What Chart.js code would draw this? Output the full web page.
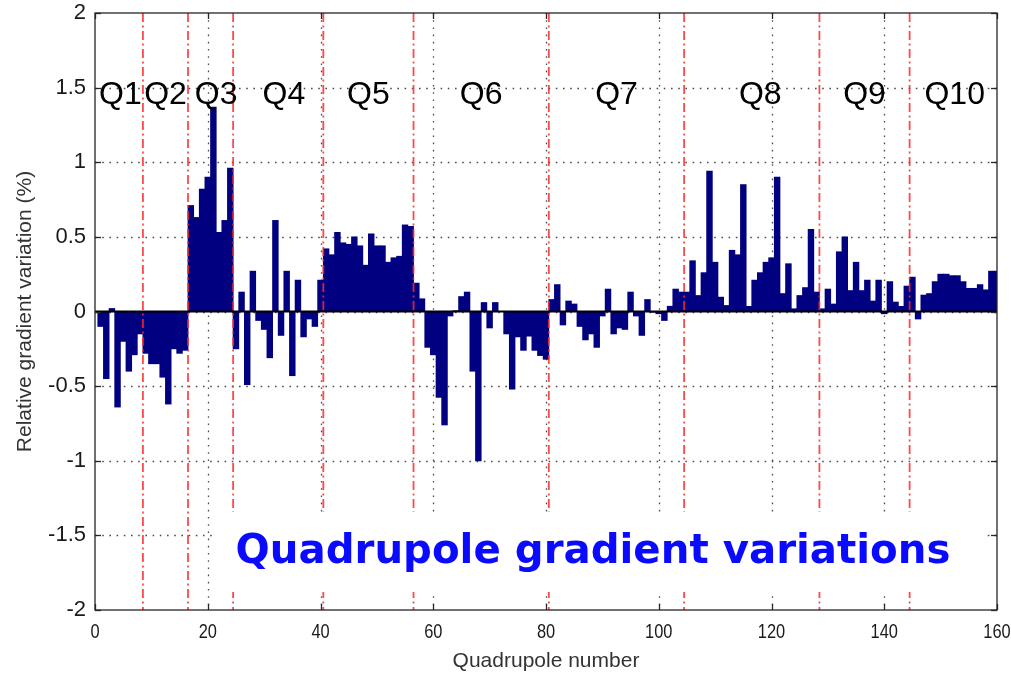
<!DOCTYPE html>
<html>
<head>
<meta charset="utf-8">
<script src="https://cdn.jsdelivr.net/npm/chart.js@4.4.1/dist/chart.umd.min.js"></script>
<style>
  html, body { margin: 0; padding: 0; background: #ffffff; }
  #wrap { width: 1011px; height: 677px; position: relative; }
</style>
</head>
<body>
<div id="wrap"><canvas id="chart" width="1011" height="677"></canvas></div>
<script>
// Relative gradient variation (%) of each quadrupole, grouped by family
const q1Values  = [-0.10, -0.45, 0.02, -0.64, -0.20, -0.40, -0.29, -0.15];
const q2Values  = [-0.28, -0.35, -0.35, -0.44, -0.62, -0.25, -0.28, -0.26];
const q3Values  = [0.71, 0.63, 0.82, 0.90, 1.37, 0.53, 0.61, 0.96];
const q4Values  = [-0.25, 0.13, -0.49, 0.27, -0.06, -0.12, -0.31, 0.61,
                   -0.16, 0.27, -0.43, 0.21, -0.17, -0.05, -0.10, 0.21];
const q5Values  = [0.42, 0.38, 0.53, 0.46, 0.45, 0.50, 0.44, 0.31,
                   0.52, 0.44, 0.44, 0.33, 0.36, 0.37, 0.58, 0.57];
const q6Values  = [0.19, 0.085, -0.24, -0.29, -0.575, -0.76, -0.03, 0.005,
                   0.10, 0.13, -0.40, -1.00, 0.06, -0.11, 0.06, 0.0,
                   -0.15, -0.52, -0.17, -0.26, -0.165, -0.26, -0.295, -0.32];
const q7Values  = [0.08, 0.18, -0.09, 0.07, 0.05, -0.10, -0.19, -0.15,
                   -0.24, -0.03, 0.15, -0.15, -0.11, -0.12, 0.13, -0.03,
                   -0.16, 0.08, -0.005, -0.015, -0.06, 0.035, 0.15, 0.13];
const q8Values  = [0.13, 0.34, 0.107, 0.26, 0.94, 0.33, 0.096, 0.04,
                   0.41, 0.38, 0.85, 0.034, 0.21, 0.26, 0.33, 0.36,
                   0.90, 0.12, 0.32, 0.018, 0.107, 0.16, 0.55, 0.13];
const q9Values  = [0.018, 0.15, 0.05, 0.40, 0.50, 0.14, 0.33, 0.14,
                   0.21, 0.07, 0.21, -0.015, 0.20, 0.063, 0.034, 0.17];
const q10Values = [0.23, -0.05, 0.11, 0.12, 0.20, 0.25, 0.25, 0.24,
                   0.24, 0.20, 0.155, 0.155, 0.18, 0.145, 0.27, 0.27];

const familyNames  = ['Q1', 'Q2', 'Q3', 'Q4', 'Q5', 'Q6', 'Q7', 'Q8', 'Q9', 'Q10'];
const familyLabelX = [4.5, 12.5, 21.5, 33.5, 48.5, 68.5, 92.5, 118, 136.5, 152.5];
const familyLabelY = 1.45;

const xTickValues = [0, 20, 40, 60, 80, 100, 120, 140, 160];
const yTickValues = [-2, -1.5, -1, -0.5, 0, 0.5, 1, 1.5, 2];

const familyValues = [q1Values, q2Values, q3Values, q4Values, q5Values,
                      q6Values, q7Values, q8Values, q9Values, q10Values];
const gradientVariation = familyValues.flat();
const quadrupoleNumbers = gradientVariation.map((_, i) => i + 1);

// family boundaries fall half-way between the last and first magnet of two families
const familyEdges = [];
{
  let n = 0;
  familyValues.slice(0, -1).forEach(f => { n += f.length; familyEdges.push(n + 0.5); });
}

const FONT = 'Liberation Sans, Arial, Helvetica, sans-serif';

function strokeLine(ctx, x1, y1, x2, y2) {
  ctx.beginPath(); ctx.moveTo(x1, y1); ctx.lineTo(x2, y2); ctx.stroke();
}

const decorations = {
  id: 'decorations',
  beforeDatasetsDraw(chart) {
    const { ctx, chartArea: a, scales: { x, y } } = chart;
    ctx.save();
    ctx.strokeStyle = '#4d4d4d';
    ctx.lineWidth = 1.3;
    ctx.setLineDash([1.6, 5.6]);
    xTickValues.forEach(v => {
      if (v === x.min || v === x.max) return;
      const px = Math.round(x.getPixelForValue(v)) + 0.5;
      strokeLine(ctx, px, a.top, px, a.bottom);
    });
    yTickValues.forEach(v => {
      if (v === y.min || v === y.max) return;
      const py = Math.round(y.getPixelForValue(v)) + 0.5;
      strokeLine(ctx, a.left, py, a.right, py);
    });
    ctx.restore();
  },
  afterDatasetsDraw(chart) {
    const { ctx, chartArea: a, scales: { x, y } } = chart;
    ctx.save();

    // bar baseline
    ctx.strokeStyle = '#000000';
    ctx.lineWidth = 2;
    const y0 = y.getPixelForValue(0);
    strokeLine(ctx, a.left, y0, a.right, y0);

    // dash-dot family separators
    ctx.strokeStyle = 'rgba(255, 40, 40, 0.85)';
    ctx.lineWidth = 1.8;
    ctx.setLineDash([9, 3.5, 2, 3.5]);
    familyEdges.forEach(e => {
      const px = x.getPixelForValue(e);
      strokeLine(ctx, px, a.top, px, a.bottom);
    });
    ctx.setLineDash([]);

    // axes box with inward tick marks
    ctx.strokeStyle = '#262626';
    ctx.lineWidth = 1.3;
    ctx.strokeRect(a.left, a.top, a.right - a.left, a.bottom - a.top);
    const tl = 6;
    xTickValues.forEach(v => {
      const px = Math.round(x.getPixelForValue(v)) + 0.5;
      strokeLine(ctx, px, a.bottom, px, a.bottom - tl);
      strokeLine(ctx, px, a.top, px, a.top + tl);
    });
    yTickValues.forEach(v => {
      const py = Math.round(y.getPixelForValue(v)) + 0.5;
      strokeLine(ctx, a.left, py, a.left + tl, py);
      strokeLine(ctx, a.right, py, a.right - tl, py);
    });

    // x tick labels, set in a narrow face
    ctx.fillStyle = '#1a1a1a';
    ctx.font = '20px ' + FONT;
    ctx.textAlign = 'center';
    ctx.textBaseline = 'middle';
    const squeeze = 0.82;
    xTickValues.forEach(v => {
      const px = x.getPixelForValue(v);
      ctx.save();
      ctx.translate(px, a.bottom + 22);
      ctx.scale(squeeze, 1);
      ctx.fillText(String(v), 0, 0);
      ctx.restore();
    });

    // family names
    ctx.fillStyle = '#000000';
    ctx.font = '32px ' + FONT;
    familyNames.forEach((name, i) => {
      ctx.fillText(name, x.getPixelForValue(familyLabelX[i]), y.getPixelForValue(familyLabelY));
    });

    // caption panel
    const box = { left: 212, top: 512, right: 987, bottom: 592 };
    ctx.fillStyle = '#ffffff';
    ctx.fillRect(box.left, box.top, box.right - box.left, box.bottom - box.top);
    const caption = 'Quadrupole gradient variations';
    const targetWidth = 715;
    ctx.font = 'bold 40px "DejaVu Sans", sans-serif';
    const w40 = ctx.measureText(caption).width;
    const size = 40 * targetWidth / w40;
    ctx.font = 'bold ' + size.toFixed(1) + 'px "DejaVu Sans", sans-serif';
    ctx.fillStyle = '#0a0aff';
    ctx.fillText(caption, 593, 553);

    ctx.restore();
  }
};

new Chart(document.getElementById('chart').getContext('2d'), {
  type: 'bar',
  data: {
    datasets: [{
      label: 'Relative gradient variation',
      data: quadrupoleNumbers.map((q, i) => ({ x: q, y: gradientVariation[i] })),
      backgroundColor: '#000080',
      borderWidth: 0,
      inflateAmount: 0.4,
      barPercentage: 1.0,
      categoryPercentage: 1.0
    }]
  },
  options: {
    responsive: false,
    animation: false,
    devicePixelRatio: 1,
    layout: { padding: { left: 0, right: 14, top: 13, bottom: 0 } },
    plugins: {
      legend: { display: false },
      tooltip: { enabled: false }
    },
    scales: {
      x: {
        type: 'linear',
        min: 0,
        max: 160,
        offset: false,
        grid: { display: false, drawTicks: false, offset: false },
        border: { display: false },
        afterBuildTicks: s => { s.ticks = xTickValues.map(v => ({ value: v })); },
        ticks: { display: false },
        title: {
          display: true,
          text: 'Quadrupole number',
          color: '#333333',
          font: { family: FONT, size: 21 },
          padding: { top: 0, bottom: 3 }
        },
        afterFit: s => { s.height = 67; s.paddingLeft = 0; s.paddingRight = 0; }
      },
      y: {
        min: -2,
        max: 2,
        grid: { display: false, drawTicks: false },
        border: { display: false },
        afterBuildTicks: s => { s.ticks = yTickValues.map(v => ({ value: v })); },
        ticks: {
          color: '#1a1a1a',
          font: { family: FONT, size: 22 },
          padding: 9,
          callback: v => String(v)
        },
        title: {
          display: true,
          text: 'Relative gradient variation (%)',
          color: '#333333',
          font: { family: FONT, size: 21 },
          padding: { top: 13, bottom: 0 }
        },
        afterFit: s => { s.width = 95; s.paddingTop = 0; s.paddingBottom = 0; }
      }
    }
  },
  plugins: [decorations]
});
</script>
</body>
</html>
